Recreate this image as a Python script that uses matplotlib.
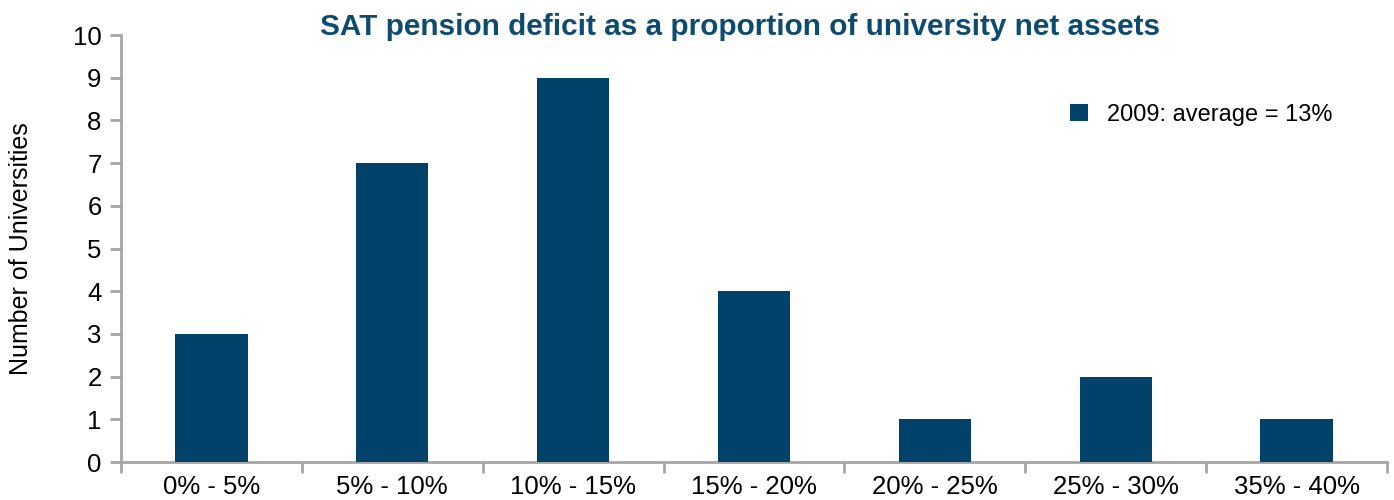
import matplotlib
matplotlib.use("Agg")
import matplotlib.pyplot as plt
import numpy as np
from matplotlib.patches import Patch

categories = ["0% - 5%", "5% - 10%", "10% - 15%", "15% - 20%", "20% - 25%", "25% - 30%", "35% - 40%"]
counts = [3, 7, 9, 4, 1, 2, 1]
series_label = "2009: average = 13%"
title = "SAT pension deficit as a proportion of university net assets"

plt.rcParams['font.family'] = ['Liberation Sans', 'DejaVu Sans']

fig = plt.figure(figsize=(13.94, 5), dpi=100)
ax = fig.add_axes([121/1394, 1-462/500, (1387-121)/1394, (462-35)/500])

bar_color = "#01426A"
grey = "#A6A6A6"
x = np.arange(len(categories))
ax.bar(x, counts, width=0.4, color=bar_color, zorder=3)

ax.set_xlim(-0.5, len(categories) - 0.5)
ax.set_ylim(0, 10)
ax.set_yticks(range(0, 11))
ax.set_xticks(np.arange(-0.5, len(categories), 1.0))
ax.set_xticklabels([])
ax.set_xticks(x, minor=True)
ax.set_xticklabels(categories, minor=True)
ax.tick_params(axis='x', which='minor', length=0, pad=9, labelsize=18.5)
ax.tick_params(axis='x', which='major', length=8, width=2, color=grey)
ax.tick_params(axis='y', length=8, width=2, color=grey, labelsize=18.5, pad=6)

for s in ['top', 'right']:
    ax.spines[s].set_visible(False)
for s in ['left', 'bottom']:
    ax.spines[s].set_color(grey)
    ax.spines[s].set_linewidth(2)

ax.set_ylabel("Number of Universities", fontsize=18)
ax.yaxis.set_label_coords((33-121)/1266, 0.5)

fig.text(740/1394, 1-27/500, title, ha='center', va='center', fontsize=21.4,
         fontweight='bold', color="#0D4B6F")

leg = ax.legend(handles=[Patch(facecolor=bar_color, label=series_label)],
                loc='upper left', bbox_to_anchor=((1070-121)/1266, (462-104)/427),
                frameon=False, fontsize=17, handlelength=0.75, handleheight=0.75,
                handletextpad=0.8, borderpad=0, borderaxespad=0)

fig.savefig("out.png", dpi=100)
